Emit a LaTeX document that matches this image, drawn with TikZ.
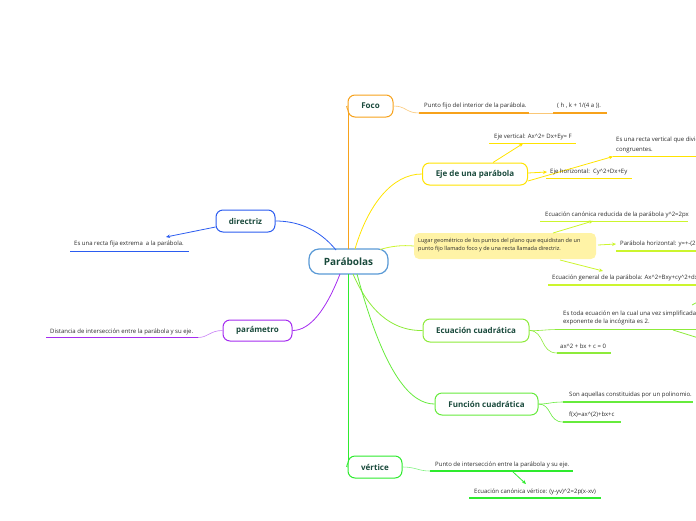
\documentclass[tikz,border=0pt]{standalone}
\usepackage{fontspec}
\setmainfont{Open Sans}
\usetikzlibrary{arrows.meta}
\newcommand\crt{\textasciicircum}
\definecolor{cOrange}{HTML}{F7A21B}
\definecolor{cYellow}{HTML}{FFE300}
\definecolor{cLime}{HTML}{CCF52E}
\definecolor{cGreenA}{HTML}{8DEB3A}
\definecolor{cGreenB}{HTML}{66EB3C}
\definecolor{cGreenC}{HTML}{2EEB2E}
\definecolor{cBlue}{HTML}{2B5CF0}
\definecolor{cPurple}{HTML}{A52CF0}
\definecolor{cCentral}{HTML}{5A9AD6}
\definecolor{cLabel}{HTML}{1A4A3C}
\definecolor{cText}{HTML}{2A2A2A}
\definecolor{cLugar}{HTML}{FFF3A6}
\tikzset{
  topic/.style={draw, line width=1pt, rounded corners=7pt, fill=white, text=cLabel,
    font=\fontsize{8}{9}\selectfont\bfseries, inner sep=0pt, align=center},
  small/.style={anchor=base west, inner sep=0pt, text=cText, font=\fontsize{6}{7}\selectfont, align=left},
  uline/.style={line width=1.4pt},
  conn/.style={line width=0.8pt},
  arr/.style={line width=0.8pt, -{Stealth[length=4pt,width=3.5pt]}},
}
\begin{document}
\begin{tikzpicture}[x=1pt,y=-1pt]
\useasboundingbox (0,0) rectangle (696,520);
\clip (0,0) rectangle (696,520);

% ---- topic boxes
\node[topic, draw=cCentral, line width=1.2pt, minimum width=79pt, minimum height=25pt, rounded corners=10pt,
      font=\fontsize{10}{12}\selectfont\bfseries] (par) at (348.5,261.5) {Parábolas};
\node[topic, draw=cOrange, minimum width=45pt, minimum height=22pt] (foco) at (370.5,106) {Foco};
\node[topic, draw=cYellow, minimum width=105pt, minimum height=22pt] (eje) at (475,174) {Eje de una parábola};
\node[draw=none, fill=cLugar, rounded corners=5pt, minimum width=182pt, minimum height=26pt, inner sep=0pt] (lugar) at (505,246) {};
\node[small, anchor=north west, font=\fontsize{5.5}{7.2}\selectfont] (lugart) at (418,238.5) {Lugar geométrico de los puntos del plano que equidistan de un\\punto fijo llamado foco y de una recta llamada directriz.};
\node[topic, draw=cGreenA, minimum width=106pt, minimum height=23pt] (ecc) at (476,330.5) {Ecuación cuadrática};
\node[topic, draw=cGreenB, minimum width=103pt, minimum height=22pt] (fun) at (486.5,404) {Función cuadrática};
\node[topic, draw=cGreenC, minimum width=54pt, minimum height=22pt] (vert) at (375,467) {vértice};
\node[topic, draw=cBlue, minimum width=59pt, minimum height=22pt] (dir) at (245.5,221) {directriz};
\node[topic, draw=cPurple, minimum width=69pt, minimum height=21pt] (pam) at (257.5,330.5) {parámetro};

% ---- main connectors
\coordinate (pO) at (348.5,249);
\coordinate (pY) at (355,249);
\coordinate (pL) at (380,249.5);
\coordinate (pB) at (336,250);
\coordinate (pP) at (340,274);
\coordinate (pG0) at (348.5,274);
\coordinate (pG1) at (353,274);
\coordinate (pG2) at (357,274);
\draw[conn, cOrange] (pO) -- (348.5,112) to[out=90,in=180] (foco.west);
\draw[conn, cYellow] (pY) .. controls (368,205) and (392,174) .. (eje.west);
\draw[conn, cLime] (pL) .. controls (392,246) and (402,245) .. (lugar.west);
\draw[conn, cGreenA] (pG1) .. controls (372,318) and (398,331) .. (ecc.west);
\draw[conn, cGreenB] (pG2) .. controls (385,378) and (412,404) .. (fun.west);
\draw[conn, cGreenC] (pG0) -- (348.5,461) to[out=-90,in=180] (vert.west);
\draw[conn, cBlue] (pB) .. controls (318,228) and (296,221) .. (dir.east);
\draw[conn, cPurple] (pP) .. controls (326,310) and (310,330.5) .. (pam.east);

% ---- Foco children
\coordinate (f1a) at (419,113); \coordinate (f1b) at (529,113);
\coordinate (f2a) at (553,113); \coordinate (f2b) at (607,113);
\draw[conn, cOrange!60, line width=0.6pt] (foco.east) .. controls (406,106) and (406,113) .. (f1a);
\draw[uline, cOrange] (f1a) -- (f1b);
\draw[conn, cOrange!60, line width=0.6pt] (f1b) -- (f2a);
\draw[uline, cOrange] (f2a) -- (f2b);
\node[small] (f1t) at (424,107) {Punto fijo del interior de la parábola.};
\node[small] (f2t) at (557,107) {( h , k + 1/(4 a )).};

% ---- Eje children
\coordinate (e1a) at (489,143.5); \coordinate (e1b) at (576,143.5); \coordinate (e1h) at (523,143.5);
\coordinate (e2a) at (613,156.5); \coordinate (e2b) at (700,156.5);
\coordinate (e3a) at (546,178.5); \coordinate (e3b) at (632,178.5); \coordinate (e3h) at (547,172);
\draw[uline, cYellow] (e1a) -- (e1b);
\draw[uline, cYellow] (e2a) -- (e2b);
\draw[uline, cYellow] (e3a) -- (e3b);
\draw[arr, cYellow] ([xshift=18pt]eje.north) -- (e1h);
\draw[arr, cYellow] ([yshift=-7pt]eje.east) -- (e2a);
\draw[arr, cYellow] ([yshift=1pt]eje.east) -- (e3h);
\node[small] (e1t) at (494,138) {Eje vertical: Ax\crt2+ Dx+Ey= F};
\node[small] (e2t) at (616,141.5) {Es una recta vertical que divide};
\node[small] (e2u) at (616,151) {congruentes.};
\node[small] (e3t) at (550,173) {Eje horizontal:\ \ Cy\crt2+Dx+Ey};

% ---- Lugar children
\coordinate (l1a) at (540,221.5); \coordinate (l1b) at (688,221.5); \coordinate (l1h) at (593,221);
\coordinate (l2a) at (616,251); \coordinate (l2b) at (700,251); \coordinate (l2h) at (616,244);
\coordinate (l3a) at (548,285); \coordinate (l3b) at (700,285); \coordinate (l3h) at (603,271);
\draw[uline, cLime] (l1a) -- (l1b);
\draw[uline, cLime] (l2a) -- (l2b);
\draw[uline, cLime] (l3a) -- (l3b);
\draw[arr, cLime] (553,233) -- (l1h);
\draw[arr, cLime] (598,245) -- (l2h);
\draw[arr, cLime] (560,260) -- (l3h);
\node[small] (l1t) at (545,216) {Ecuación canónica reducida de la parábola y\crt2=2px};
\node[small] (l2t) at (620,245.5) {Parábola horizontal: y=+-(2px)};
\node[small] (l3t) at (552,279) {Ecuación general de la parábola: Ax\crt2+Bxy+cy\crt2+dx};

% ---- Ecuacion cuadratica children
\coordinate (c1a) at (558,329.5); \coordinate (c1b) at (700,329.5);
\coordinate (c2a) at (557,353); \coordinate (c2b) at (611,353);
\draw[conn, cGreenA, line width=0.6pt] (ecc.east) .. controls (540,331) and (545,329.5) .. (c1a);
\draw[conn, cGreenA, line width=0.6pt] (ecc.east) .. controls (545,331) and (540,353) .. (c2a);
\draw[uline, cGreenA] (c1a) -- (c1b);
\draw[uline, cGreenA] (c2a) -- (c2b);
\draw[conn, cGreenA] (673,330) -- (705,340);
\draw[conn, cGreenA] (692,305) .. controls (698,301) .. (705,298);
\node[small] (c1t) at (563,315) {Es toda ecuación en la cual una vez simplificada};
\node[small] (c1u) at (563,323) {exponente de la incógnita es 2.};
\node[small] (c2t) at (560,348) {ax\crt2 + bx + c = 0};

% ---- Funcion cuadratica children
\coordinate (u1a) at (563,402); \coordinate (u1b) at (693,402);
\coordinate (u2a) at (563,422); \coordinate (u2b) at (621,422);
\draw[conn, cGreenB, line width=0.6pt] (fun.east) .. controls (550,404) and (550,402) .. (u1a);
\draw[conn, cGreenB, line width=0.6pt] (fun.east) .. controls (552,404) and (548,422) .. (u2a);
\draw[uline, cGreenB] (u1a) -- (u1b);
\draw[uline, cGreenB] (u2a) -- (u2b);
\node[small] (u1t) at (569,396.5) {Son aquellas constituidas por un polinomio.};
\node[small] (u2t) at (569,416) {f(x)=ax\crt(2)+bx+c};

% ---- vertice children
\coordinate (v1a) at (430,471); \coordinate (v1b) at (573,471); \coordinate (v1m) at (512,471);
\coordinate (v2a) at (469,498); \coordinate (v2b) at (601,498); \coordinate (v2h) at (526,484);
\draw[conn, cGreenC!60, line width=0.6pt] (vert.east) .. controls (416,467) and (418,471) .. (v1a);
\draw[uline, cGreenC] (v1a) -- (v1b);
\draw[uline, cGreenC] (v2a) -- (v2b);
\draw[arr, cGreenC] (v1m) -- (v2h);
\node[small] (v1t) at (435,466) {Punto de intersección entre la parábola y su eje.};
\node[small] (v2t) at (474,493) {Ecuación canónica vértice: (y-yv)\crt2=2p(x-xv)};

% ---- directriz child
\coordinate (d1a) at (70,251.5); \coordinate (d1b) at (189,251.5); \coordinate (d1h) at (166,237);
\draw[uline, cBlue] (d1a) -- (d1b);
\draw[arr, cBlue] ([yshift=-6pt]dir.west) -- (d1h);
\node[small] (d1t) at (74,245.5) {Es una recta fija extrema\ \ a la parábola.};

% ---- parametro child
\coordinate (p1a) at (46,337.5); \coordinate (p1b) at (198,337.5);
\draw[conn, cPurple!60, line width=0.6pt] (pam.west) .. controls (210,330.5) and (208,337.5) .. (p1b);
\draw[uline, cPurple] (p1a) -- (p1b);
\node[small] (p1t) at (50,333) {Distancia de intersección entre la parábola y su eje.};
\end{tikzpicture}
\end{document}
